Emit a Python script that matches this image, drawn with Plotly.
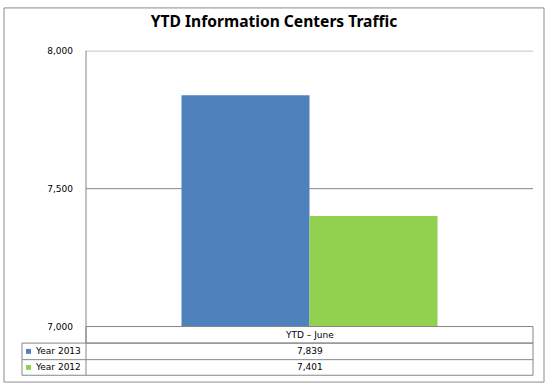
import plotly.graph_objects as go

# ---- data ----
categories = ["YTD – June"]
series_names = ["Year 2013", "Year 2012"]
values_2013 = [7839]
values_2012 = [7401]
series_values = [values_2013, values_2012]
series_colors = ["#4F81BD", "#92D050"]
y_ticks = [7000, 7500, 8000]
title_text = "YTD Information Centers Traffic"

W, H = 548, 390
def px(x):
    return x / W
def py(y):
    return 1 - y / H

# plot-area pixel box
L, R, T, B = 86, 533, 47, 330
GRAY = "#868686"

fig = go.Figure()
for name, vals, col in zip(series_names, series_values, series_colors):
    fig.add_trace(go.Bar(x=categories, y=vals, name=name, marker=dict(color=col, line=dict(width=0)),
                         showlegend=False, hoverinfo="skip"))

shapes = []
# gridlines at tick values
for t in y_ticks[1:]:
    shapes.append(dict(type="line", xref="paper", yref="y", x0=px(L), x1=px(R), y0=t, y1=t,
                       line=dict(color=GRAY, width=1), layer="below"))
# outer border
shapes.append(dict(type="rect", xref="paper", yref="paper", x0=px(4), x1=px(544), y0=py(3), y1=py(387),
                   line=dict(color="#8c8c8c", width=1)))
# left axis line
shapes.append(dict(type="line", xref="paper", yref="paper", x0=px(L), x1=px(L), y0=py(T), y1=py(380),
                   line=dict(color=GRAY, width=1)))
# data table
row_tops = [330, 347, 364, 380]
shapes.append(dict(type="rect", xref="paper", yref="paper", x0=px(L), x1=px(R), y0=py(330), y1=py(347),
                   line=dict(color=GRAY, width=1)))
shapes.append(dict(type="rect", xref="paper", yref="paper", x0=px(22), x1=px(R), y0=py(347), y1=py(380),
                   line=dict(color=GRAY, width=1)))
shapes.append(dict(type="line", xref="paper", yref="paper", x0=px(22), x1=px(R), y0=py(364), y1=py(364),
                   line=dict(color=GRAY, width=1)))

annotations = []
font = dict(family="DejaVu Sans", size=9, color="#000000")
cx = (L + R) / 2
annotations.append(dict(xref="paper", yref="paper", x=px(cx), y=py(338.5), text=categories[0],
                        showarrow=False, font=font, xanchor="center", yanchor="middle"))
for i, (name, vals, col) in enumerate(zip(series_names, series_values, series_colors)):
    yc = (row_tops[i + 1] + row_tops[i + 2]) / 2
    shapes.append(dict(type="rect", xref="paper", yref="paper", x0=px(26), x1=px(31), y0=py(yc - 2.5),
                       y1=py(yc + 2.5), fillcolor=col, line=dict(width=0)))
    annotations.append(dict(xref="paper", yref="paper", x=px(33), y=py(yc), text=name, showarrow=False,
                            font=font, xanchor="left", yanchor="middle"))
    annotations.append(dict(xref="paper", yref="paper", x=px(cx), y=py(yc), text=f"{vals[0]:,}",
                            showarrow=False, font=font, xanchor="center", yanchor="middle"))

fig.update_layout(
    width=W, height=H,
    margin=dict(l=0, r=0, t=0, b=0),
    paper_bgcolor="white", plot_bgcolor="white",
    barmode="group", bargap=1 - 256 / 447, bargroupgap=0,
    hovermode=False,
    title=dict(text="<b>" + title_text + "</b>", x=px(274), xanchor="center", y=py(22), yanchor="middle",
               font=dict(family="Noto Sans", size=15.6, color="#000000")),
    xaxis=dict(domain=[px(L), px(R)], showticklabels=False, showgrid=False, zeroline=False,
               showline=False, ticks=""),
    yaxis=dict(domain=[py(B), py(T)], range=[7000, 8000], tickvals=y_ticks, tickformat=",",
               showgrid=False, zeroline=False, showline=False,
               ticks="", ticklabelstandoff=12, tickfont=font),
    shapes=shapes, annotations=annotations,
)
fig.write_html("out.html", config={"displayModeBar": False, "staticPlot": True},
               post_script="document.body.style.margin='0';document.body.style.overflow='hidden';")
